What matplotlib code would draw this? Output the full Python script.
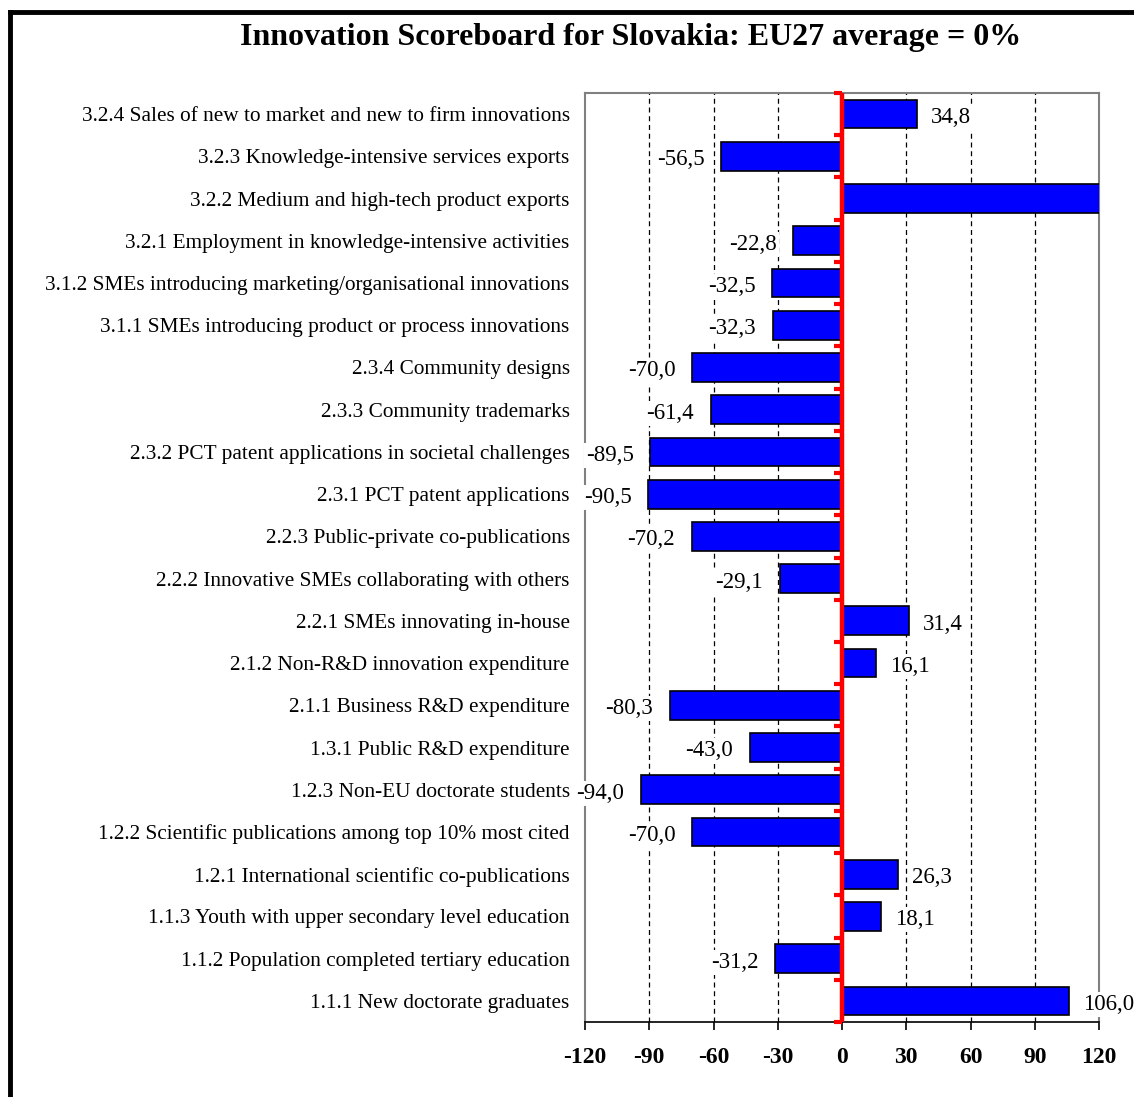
import numpy as np
import matplotlib
matplotlib.use("Agg")
import matplotlib.pyplot as plt
from matplotlib.lines import Line2D

plt.rcParams["font.family"] = ["Liberation Serif", "DejaVu Serif"]

# indicators, listed top to bottom as in the chart
categories = [
    "3.2.4 Sales of new to market and new to firm innovations",
    "3.2.3 Knowledge-intensive services exports",
    "3.2.2 Medium and high-tech product exports",
    "3.2.1 Employment in knowledge-intensive activities",
    "3.1.2 SMEs introducing marketing/organisational innovations",
    "3.1.1 SMEs introducing product or process innovations",
    "2.3.4 Community designs",
    "2.3.3 Community trademarks",
    "2.3.2 PCT patent applications in societal challenges",
    "2.3.1 PCT patent applications",
    "2.2.3 Public-private co-publications",
    "2.2.2 Innovative SMEs collaborating with others",
    "2.2.1 SMEs innovating in-house",
    "2.1.2 Non-R&D innovation expenditure",
    "2.1.1 Business R&D expenditure",
    "1.3.1 Public R&D expenditure",
    "1.2.3 Non-EU doctorate students",
    "1.2.2 Scientific publications among top 10% most cited",
    "1.2.1 International scientific co-publications",
    "1.1.3 Youth with upper secondary level education",
    "1.1.2 Population completed tertiary education",
    "1.1.1 New doctorate graduates",
]
# % difference to EU27 average (3.2.2 runs off the scale, label hidden)
values = [34.8, -56.5, 140.0, -22.8, -32.5, -32.3, -70.0, -61.4, -89.5, -90.5,
          -70.2, -29.1, 31.4, 16.1, -80.3, -43.0, -94.0, -70.0, 26.3, 18.1,
          -31.2, 106.0]
x_ticks = [-120, -90, -60, -30, 0, 30, 60, 90, 120]

W, H = 1134, 1097
fig = plt.figure(figsize=(W / 100, H / 100), dpi=100)
ax = fig.add_axes([585 / W, 1 - 1022 / H, (1099 - 585) / W, (1022 - 93) / H])

y = np.arange(len(categories))
ax.barh(y, values, height=0.68, color="#0000FF", edgecolor="black",
        linewidth=1.2, zorder=3)

ax.set_xlim(-120, 120)
ax.set_ylim(len(categories) - 0.5, -0.5)
ax.set_xticks(x_ticks)
ax.set_xticklabels([str(t) for t in x_ticks], fontsize=17, fontweight="bold")
ax.tick_params(axis="x", direction="out", length=6, width=1.2, pad=12)
ax.set_yticks(y)
ax.set_yticklabels(categories, fontsize=15.3)
ax.tick_params(axis="y", length=0, pad=11)

for g in [-90, -60, -30, 30, 60, 90]:
    ax.axvline(g, color="black", lw=0.9, ls=(0, (4, 3)), zorder=1)

for s in ["top", "right", "left"]:
    ax.spines[s].set_color("#808080")
    ax.spines[s].set_linewidth(1.5)
ax.spines["bottom"].set_color("black")
ax.spines["bottom"].set_linewidth(1.2)

# red zero axis with small ticks between categories
ax.axvline(0, color="red", lw=3.2, zorder=5)
bounds = np.arange(len(categories) + 1) - 0.5
ax.plot(np.zeros_like(bounds), bounds, ls="none", marker=0, ms=6, mew=3,
        color="red", zorder=5, clip_on=False)

for yi, v in zip(y, values):
    txt = f"{v:.1f}".replace(".", ",")
    if v >= 0:
        off, ha = 10, "left"
    else:
        off, ha = -12, "right"
    ax.annotate(txt, xy=(v, yi), xytext=(off, -2.5), textcoords="offset points",
                ha=ha, va="center", fontsize=16.5, zorder=4,
                bbox=dict(facecolor="white", edgecolor="none", pad=1.5))

fig.text(631 / W, 1 - 37 / H, "Innovation Scoreboard for Slovakia: EU27 average = 0%",
         ha="center", va="center", fontsize=23, fontweight="bold")

# outer frame (top and left)
fig.add_artist(Line2D([10 / W, 1.0], [1 - 12 / H, 1 - 12 / H],
                      transform=fig.transFigure, color="black", lw=3.5))
fig.add_artist(Line2D([10 / W, 10 / W], [0, 1 - 12 / H],
                      transform=fig.transFigure, color="black", lw=3.5))

fig.savefig("out.png", dpi=100)
